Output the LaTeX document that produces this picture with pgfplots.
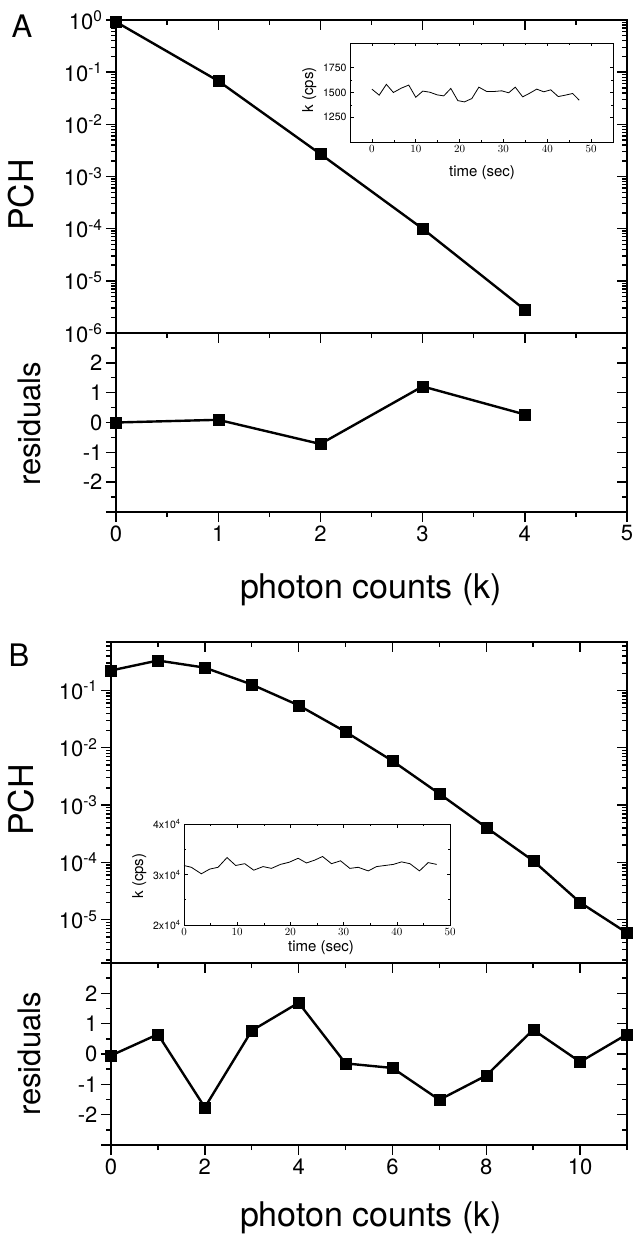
\documentclass[border=0pt]{standalone}
\usepackage{fontspec}
\setmainfont{TeX Gyre Heros}
\usepackage{pgfplots}
\pgfplotsset{compat=1.18}
\newcommand{\fs}[1]{\fontsize{#1}{#1}\selectfont}
\newcommand{\tn}[1]{10\textsuperscript{#1}}
\pgfplotsset{
  base/.style={scale only axis, clip=false, anchor=north west,
    axis line style={line width=1.6pt},
    tick style={line width=1.4pt, black}, major tick length=10pt, minor tick length=5pt,
    tick label style={font=\fs{22}}, scaled ticks=false},
  lb/.style={tick align=outside, xtick pos=bottom, ytick pos=left},
  rt/.style={tick align=inside, xtick pos=top, ytick pos=right, xticklabels={}, yticklabels={}},
  inset/.style={scale only axis, anchor=north west, clip=false,
    axis line style={line width=0.7pt}, tick style={line width=0.6pt, black},
    major tick length=3.5pt, minor tick length=2pt, tick align=inside,
    tick label style={font=\fs{10.5}}, scaled ticks=false,
    axis background/.style={fill=white}},
  dat/.style={black, line width=2.4pt, mark=square*, mark size=5.5pt, mark options={solid, line width=0.3pt}},
  Amain/.style={base, at={(116pt,-20pt)}, width=511pt, height=313pt,
    xmin=0, xmax=5, ymin=1e-6, ymax=1, xtick={0,1,2,3,4,5}, minor x tick num=1,
    ytick={1e-6,1e-5,1e-4,1e-3,1e-2,1e-1,1},
    minor ytick={2e-6,3e-6,4e-6,5e-6,6e-6,7e-6,8e-6,9e-6,
      2e-5,3e-5,4e-5,5e-5,6e-5,7e-5,8e-5,9e-5,
      2e-4,3e-4,4e-4,5e-4,6e-4,7e-4,8e-4,9e-4,
      2e-3,3e-3,4e-3,5e-3,6e-3,7e-3,8e-3,9e-3,
      2e-2,3e-2,4e-2,5e-2,6e-2,7e-2,8e-2,9e-2,
      0.2,0.3,0.4,0.5,0.6,0.7,0.8,0.9}},
  Ares/.style={base, at={(116pt,-333pt)}, width=511pt, height=179pt,
    xmin=0, xmax=5, ymin=-3, ymax=3, xtick={0,1,2,3,4,5}, minor x tick num=1,
    ytick={-3,-2,-1,0,1,2,3}, minor y tick num=1},
  Bmain/.style={base, at={(111pt,-642pt)}, width=516pt, height=321pt,
    xmin=0, xmax=11, ymin=1.76e-6, ymax=0.7, xtick={0,2,4,6,8,10}, minor xtick={1,3,5,7,9,11},
    ytick={1e-5,1e-4,1e-3,1e-2,1e-1},
    minor ytick={2e-6,3e-6,4e-6,5e-6,6e-6,7e-6,8e-6,9e-6,
      2e-5,3e-5,4e-5,5e-5,6e-5,7e-5,8e-5,9e-5,
      2e-4,3e-4,4e-4,5e-4,6e-4,7e-4,8e-4,9e-4,
      2e-3,3e-3,4e-3,5e-3,6e-3,7e-3,8e-3,9e-3,
      2e-2,3e-2,4e-2,5e-2,6e-2,7e-2,8e-2,9e-2,
      0.2,0.3,0.4,0.5,0.6,0.7}},
  Bres/.style={base, at={(111pt,-963pt)}, width=516pt, height=182pt,
    xmin=0, xmax=11, ymin=-3, ymax=3, xtick={0,2,4,6,8,10}, minor xtick={1,3,5,7,9,11},
    ytick={-3,-2,-1,0,1,2,3}, minor y tick num=1},
}
\begin{document}
\begin{tikzpicture}
\path[use as bounding box] (0pt,0pt) rectangle (633pt,-1236pt);

% ---------------- Panel A ----------------
\begin{semilogyaxis}[Amain, lb, xticklabels={},
  yticklabels={\tn{-6},\tn{-5},\tn{-4},\tn{-3},\tn{-2},\tn{-1},\tn{0}}]
\addplot[dat] coordinates {(0,0.92) (1,0.068) (2,0.0027) (3,1.0e-4) (4,2.8e-6)};
\end{semilogyaxis}
\begin{semilogyaxis}[Amain, rt]
\end{semilogyaxis}

\begin{axis}[Ares, lb, xticklabels={0,1,2,3,4,5}, yticklabels={,-2,-1,0,1,2,}]
\addplot[dat] coordinates {(0,0) (1,0.09) (2,-0.72) (3,1.21) (4,0.27)};
\end{axis}
\begin{axis}[Ares, rt]
\end{axis}

\begin{axis}[inset, at={(350pt,-43pt)}, width=263pt, height=99pt,
  xmin=-5, xmax=55, ymin=1000, ymax=2000,
  xtick={0,10,20,30,40,50}, minor x tick num=1,
  ytick={1250,1500,1750}, yticklabels={1250,1500,1750}, minor y tick num=1]
\addplot[black, line width=0.8pt] coordinates {
(0,1534) (1.66,1473) (3.3,1582) (4.9,1500) (6.7,1544) (8.4,1575) (10,1452)
(11.6,1514) (13.2,1503) (14.9,1476) (16.4,1466) (18,1541) (19.6,1418)
(21.1,1405) (22.8,1439) (24.4,1554) (26.2,1510) (27.8,1510) (29.6,1517)
(31.2,1497) (32.7,1554) (34.4,1456) (36,1493) (37.6,1534) (39.2,1507)
(40.8,1527) (42.5,1459) (44.1,1473) (45.8,1490) (47.3,1422)};
\end{axis}

\node[font=\fs{31}] at (22pt,-26pt) {A};
\node[font=\fs{34}, rotate=90, anchor=base] at (33pt,-195pt) {PCH};
\node[font=\fs{31}, rotate=90, anchor=base] at (40pt,-424pt) {residuals};
\node[font=\fs{34}, anchor=base] at (371pt,-598pt) {photon counts (k)};
\node[font=\fs{15}, rotate=90, anchor=base] at (313pt,-90pt) {k (cps)};
\node[font=\fs{15}] at (482pt,-173pt) {time (sec)};

% ---------------- Panel B ----------------
\begin{semilogyaxis}[Bmain, lb, xticklabels={},
  yticklabels={\tn{-5},\tn{-4},\tn{-3},\tn{-2},\tn{-1}}]
\addplot[dat] coordinates {(0,0.223) (1,0.333) (2,0.25) (3,0.127) (4,0.055) (5,0.019)
 (6,5.9e-3) (7,1.58e-3) (8,4.07e-4) (9,1.07e-4) (10,2.0e-5) (11,5.9e-6)};
\end{semilogyaxis}
\begin{semilogyaxis}[Bmain, rt]
\end{semilogyaxis}

\begin{axis}[Bres, lb, xticklabels={0,2,4,6,8,10}, yticklabels={,-2,-1,0,1,2,}]
\addplot[dat] coordinates {(0,-0.05) (1,0.65) (2,-1.76) (3,0.77) (4,1.69) (5,-0.31)
 (6,-0.46) (7,-1.51) (8,-0.71) (9,0.8) (10,-0.26) (11,0.65)};
\end{axis}
\begin{axis}[Bres, rt]
\end{axis}

\begin{axis}[inset, at={(184pt,-824pt)}, width=266pt, height=101pt,
  xmin=0, xmax=50, ymin=20000, ymax=40000,
  xtick={0,10,20,30,40,50}, minor x tick num=1,
  ytick={20000,30000,40000}, yticklabels={2x10\textsuperscript{4},3x10\textsuperscript{4},4x10\textsuperscript{4}},
  minor y tick num=1]
\addplot[black, line width=0.8pt] coordinates {
(0,31786) (1.38,31428) (3.26,30143) (4.83,31071) (6.40,31428) (8.09,33357)
(9.72,31786) (11.42,32143) (13.11,30857) (14.87,31571) (16.44,31214) (18.13,32000)
(19.76,32428) (21.46,33214) (23.02,32286) (24.59,32857) (26.04,33571) (27.73,32143)
(29.42,32714) (31.18,31214) (32.75,31428) (34.63,30714) (36.20,31571) (37.77,31786)
(39.34,32000) (40.90,32500) (42.47,32143) (44.26,30714) (45.9,32357) (47.5,32000)};
\end{axis}

\node[font=\fs{31}] at (19pt,-655pt) {B};
\node[font=\fs{34}, rotate=90, anchor=base] at (33pt,-800pt) {PCH};
\node[font=\fs{31}, rotate=90, anchor=base] at (40pt,-1054pt) {residuals};
\node[font=\fs{34}, anchor=base] at (371pt,-1226pt) {photon counts (k)};
\node[font=\fs{15}, rotate=90, anchor=base] at (143pt,-876pt) {k (cps)};
\node[font=\fs{15}] at (321pt,-948pt) {time (sec)};
\end{tikzpicture}
\end{document}
